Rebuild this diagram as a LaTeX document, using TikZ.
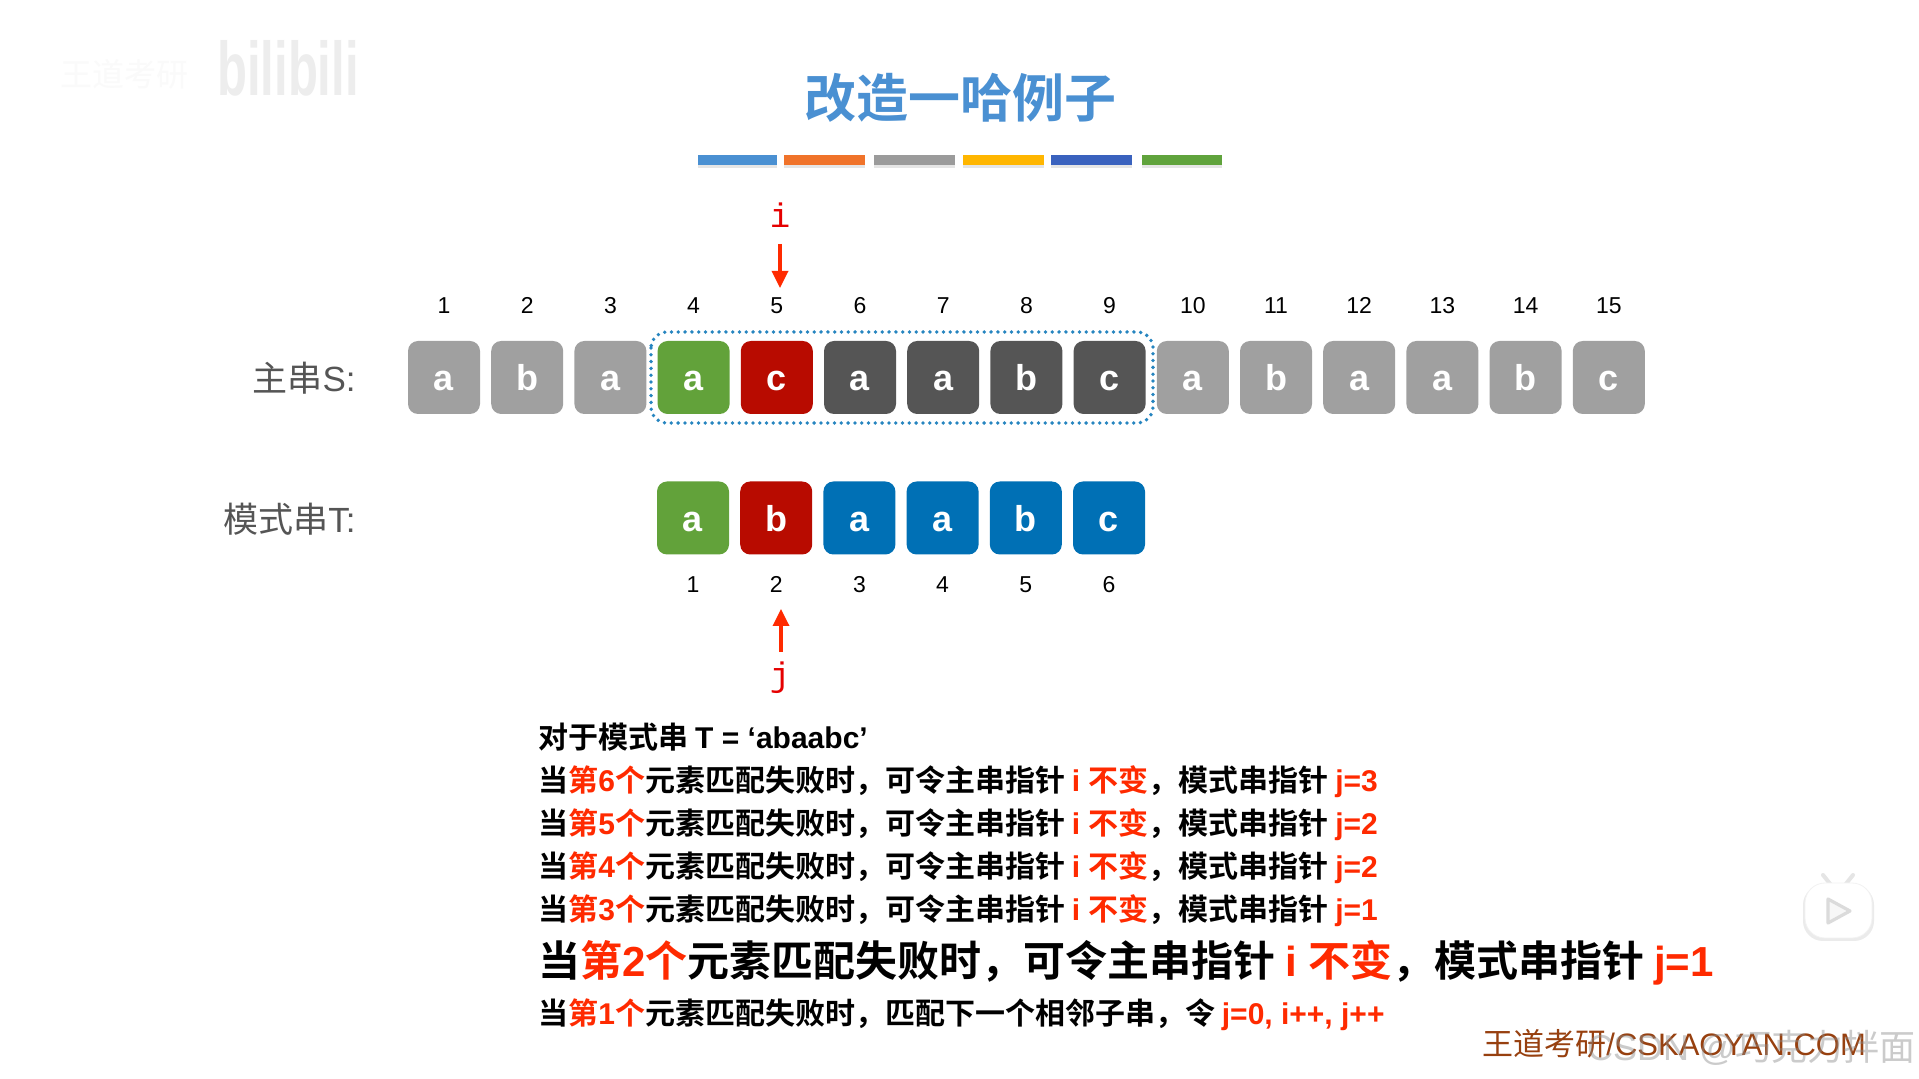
\documentclass[tikz,border=0pt]{standalone}
\usepackage{fontspec}
\setmainfont{Liberation Sans}
\newfontfamily\cjkbf[BoldFont={Noto Sans CJK SC Bold}]{Noto Sans CJK SC}
\newfontfamily\cjkreg{Noto Sans CJK SC}
\newfontfamily\monof{Liberation Mono}
\usetikzlibrary{arrows.meta}
\definecolor{tgray}{HTML}{A0A0A0}
\definecolor{tgreen}{HTML}{62A23A}
\definecolor{tred}{HTML}{B80B00}
\definecolor{tdark}{HTML}{555555}
\definecolor{tblue}{HTML}{0070B5}
\definecolor{thead}{HTML}{4A90D2}
\definecolor{hot}{HTML}{FF2A00}
\definecolor{brownish}{HTML}{97400F}
\newcommand{\C}[1]{{\cjkbf\bfseries #1}}
\newcommand{\R}[1]{\textcolor{hot}{#1}}
\newcommand{\failline}[3]{\C{当}\R{\C{第}\textbf{#1}\C{个}}\C{元素匹配失败时，可令主串指针 }\R{\textbf{i }\C{不变}}\C{，模式串指针 }\R{\textbf{j=#2}}}
\tikzset{
  x=0.5pt,y=-0.5pt,
  cell/.style={rounded corners=5pt,minimum width=36pt,minimum height=36.5pt,inner sep=0pt,text=white,text height=13.5pt,text depth=0pt,font=\fontsize{18}{20}\selectfont\bfseries},
  num/.style={inner sep=0pt,text height=8.2pt,text depth=0pt,font=\fontsize{11.5}{13}\selectfont,text=black},
  slabel/.style={anchor=east,inner sep=0pt,text=tdark,font=\fontsize{17.5}{20}\selectfont},
  ptr/.style={draw=hot,line width=1.7pt,-{Triangle[length=8.5pt,width=8pt]}},
  ptrlab/.style={inner sep=0pt,text=red!90!black,font=\monof\fontsize{17}{20}\selectfont},
  txt/.style={anchor=base west,inner sep=0pt,font=\fontsize{15}{18}\selectfont},
  txtbig/.style={anchor=base west,inner sep=0pt,font=\fontsize{21}{24}\selectfont},
}
\begin{document}
\begin{tikzpicture}
\useasboundingbox (0,0) rectangle (1919,1079);
\fill[white] (0,0) rectangle (1919,1079);
% faint logo
\node[inner sep=0pt,text=black!7,yscale=1.55,font=\fontsize{24.5}{28}\selectfont\bfseries] (logo) at (288,68) {bilibili};
\node[inner sep=0pt,text=black!2,font=\fontsize{16}{18}\selectfont\cjkreg] (logotext) at (125,74) {王道考研};
% title
\node[inner sep=0pt,text=thead,font=\fontsize{26}{30}\selectfont] (title) at (960,98) {\C{改造一哈例子}};
% coloured bars
\foreach \n/\a/\b/\c in {1/698/777/4A90D2,2/784/865/F0732A,3/874/955/9B9B9B,4/963/1044/FFB600,5/1051/1132/3A62BE,6/1142/1222/60A33C}{
  \definecolor{cc}{HTML}{\c}
  \fill[black,opacity=0.10] (\a,158) rectangle (\b,168);
  \fill[cc] (\a,155.5) rectangle (\b,165.5);
}
% main string
\foreach \i/\ch/\col in {1/a/tgray,2/b/tgray,3/a/tgray,4/a/tgreen,5/c/tred,6/a/tdark,7/a/tdark,8/b/tdark,9/c/tdark,10/a/tgray,11/b/tgray,12/a/tgray,13/a/tgray,14/b/tgray,15/c/tgray}{
  \pgfmathsetmacro{\xx}{444+83.2*(\i-1)}
  \node[cell,fill=\col] (s\i) at (\xx,377.5) {\ch};
  \node[num] (sn\i) at (\xx,305) {\i};
}
% pattern string
\foreach \i/\ch/\col in {1/a/tgreen,2/b/tred,3/a/tblue,4/a/tblue,5/b/tblue,6/c/tblue}{
  \pgfmathsetmacro{\xx}{693+83.2*(\i-1)}
  \node[cell,fill=\col] (t\i) at (\xx,518) {\ch};
  \node[num] (tn\i) at (\xx,584) {\i};
}
\draw[draw=tblue!85!white,line width=1.9pt,dash pattern=on 0pt off 3.4pt,rounded corners=8pt,line cap=round] (651,332) rectangle (1153,423);
\node[slabel] (slab) at (356,378) {{\cjkreg 主串}S:};
\node[slabel] (tlab) at (356,519) {{\cjkreg 模式串}T:};
% pointers
\node[ptrlab] (ilab) at (780,215) {i};
\coordinate (itip) at (780,288);
\coordinate (itail) at (780,244);
\draw[ptr] (itail) -- (itip);
\node[ptrlab] (jlab) at (780,678) {j};
\coordinate (jtip) at (781,609);
\coordinate (jtail) at (781,652);
\draw[ptr] (jtail) -- (jtip);
% text block
\node[txt] (l0) at (538,749) {\C{对于模式串 }\textbf{T = ‘abaabc’}};
\node[txt] (l1) at (538,792) {\failline{6}{3}{}};
\node[txt] (l2) at (538,835) {\failline{5}{2}{}};
\node[txt] (l3) at (538,878) {\failline{4}{2}{}};
\node[txt] (l4) at (538,921) {\failline{3}{1}{}};
\node[txtbig] (l5) at (538,977) {\failline{2}{1}{}};
\node[txt] (l6) at (538,1024) {\C{当}\R{\C{第}\textbf{1}\C{个}}\C{元素匹配失败时，匹配下一个相邻子串，令 }\R{\textbf{j=0, i++, j++}}};
% footer
\node[anchor=west,inner sep=0pt,text=brownish,font=\fontsize{15.5}{18}\selectfont] (foot) at (1482,1044) {{\cjkreg 王道考研}/CSKAOYAN.COM};
\node[anchor=east,inner sep=0pt,text=black!45,opacity=0.45,font=\fontsize{18}{20}\selectfont] (mark) at (1916,1048) {CSDN @{\cjkreg 巧克力拌面}};
% play badge
\draw[black!10,line width=2pt,line cap=round] (1823,875) -- (1831,885) (1853,875) -- (1845,885);
\fill[black!8,rounded corners=10pt] (1803,885) rectangle (1874,941);
\fill[white,rounded corners=10pt,draw=black!5] (1805,883) rectangle (1872,938);
\draw[black!14,line width=1.6pt,line join=round,fill=black!3] (1828,899) -- (1828,923) -- (1850,911) -- cycle;
\end{tikzpicture}
\end{document}
